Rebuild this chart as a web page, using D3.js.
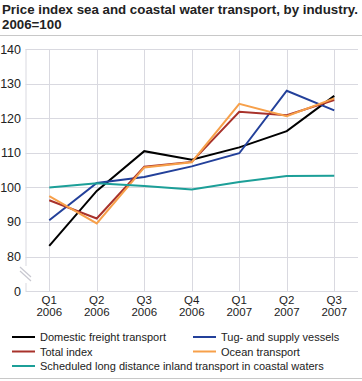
<!DOCTYPE html>
<html><head><meta charset="utf-8">
<script src="https://cdn.jsdelivr.net/npm/d3@7"></script>
<style>
body{margin:0;background:#fff;}
svg{display:block;font-family:"Liberation Sans",Arial,sans-serif;}
</style></head><body>
<svg id="c" width="362" height="381"></svg>
<script>
const categories = ["Q1 2006","Q2 2006","Q3 2006","Q4 2006","Q1 2007","Q2 2007","Q3 2007"];
const domestic  = [83.1, 99.0, 110.5, 108.0, 111.6, 116.3, 126.5];
const tug       = [90.5, 101.3, 103.0, 106.1, 109.9, 128.0, 122.3];
const total     = [96.3, 91.0, 106.0, 107.4, 121.9, 120.9, 125.3];
const ocean     = [97.5, 89.6, 105.8, 107.3, 124.2, 120.6, 125.8];
const scheduled = [100.0, 101.2, 100.4, 99.4, 101.6, 103.3, 103.4];
const yTicks = [0, 80, 90, 100, 110, 120, 130, 140];
const seriesNames = ["Domestic freight transport","Tug- and supply vessels","Total index","Ocean transport","Scheduled long distance inland transport in coastal waters"];
const seriesColors = ["#000000","#23409a","#a8322b","#f7a04a","#1c9f98"];
const seriesData = [domestic, tug, total, ocean, scheduled];

const svg = d3.select("#c");
const L = 25.5, R = 358, B = 291;
const x = d3.scalePoint().domain(categories).range([L, R]).padding(0.5);
const y = d3.scaleLinear().domain([0, 80, 140]).range([B, 256.5, 49.3]);
const grid = "#d9d9e0";

// title
svg.append("text").attr("x", 2).attr("y", 14).attr("font-size", 13.3).attr("font-weight", "bold").attr("fill", "#222")
  .text("Price index sea and coastal water transport, by industry.");
svg.append("text").attr("x", 2).attr("y", 29).attr("font-size", 13.3).attr("font-weight", "bold").attr("fill", "#222")
  .text("2006=100");
svg.append("line").attr("x1", 0).attr("x2", 362).attr("y1", 35.5).attr("y2", 35.5).attr("stroke", "#c8c8c8");
svg.append("line").attr("x1", 0).attr("x2", 362).attr("y1", 378.5).attr("y2", 378.5).attr("stroke", "#c8c8c8");

// horizontal grid
const g = svg.append("g");
yTicks.filter(t => t > 0).forEach(t => {
  g.append("line").attr("x1", L).attr("x2", R).attr("y1", Math.round(y(t)) + 0.5).attr("y2", Math.round(y(t)) + 0.5).attr("stroke", grid);
});
// vertical grid
categories.forEach(c => {
  g.append("line").attr("x1", Math.round(x(c)) + 0.5).attr("x2", Math.round(x(c)) + 0.5).attr("y1", y(140)).attr("y2", B).attr("stroke", grid);
});
// axis lines
g.append("line").attr("x1", L).attr("x2", R).attr("y1", B + 0.5).attr("y2", B + 0.5).attr("stroke", grid);
g.append("line").attr("x1", L + 0.5).attr("x2", L + 0.5).attr("y1", y(140)).attr("y2", 266).attr("stroke", grid);
g.append("line").attr("x1", L + 0.5).attr("x2", L + 0.5).attr("y1", 283).attr("y2", B).attr("stroke", grid);
// break marks
g.append("line").attr("x1", 20).attr("y1", 267).attr("x2", 31).attr("y2", 277).attr("stroke", "#c8c8d0").attr("stroke-width", 1.2);
g.append("line").attr("x1", 20).attr("y1", 271).attr("x2", 31).attr("y2", 281).attr("stroke", "#c8c8d0").attr("stroke-width", 1.2);

// y tick labels
yTicks.forEach(t => {
  svg.append("text").attr("x", 21).attr("y", y(t) + 4.5).attr("text-anchor", "end").attr("font-size", 12.5).attr("fill", "#222").text(t);
});
// x tick labels
categories.forEach(c => {
  const [q, yr] = c.split(" ");
  const t = svg.append("text").attr("text-anchor", "middle").attr("font-size", 11.5).attr("fill", "#222");
  t.append("tspan").attr("x", x(c)).attr("y", 304).text(q);
  t.append("tspan").attr("x", x(c)).attr("y", 316).text(yr);
});

// lines
const line = d3.line().x((d, i) => x(categories[i])).y(d => y(d));
seriesData.forEach((s, i) => {
  svg.append("path").datum(s).attr("d", line).attr("fill", "none").attr("stroke", seriesColors[i]).attr("stroke-width", 2).attr("stroke-linejoin", "miter");
});

// legend
const legPos = [[12, 337], [193, 337], [12, 351.5], [193, 351.5], [12, 366]];
seriesNames.forEach((n, i) => {
  const [lx, ly] = legPos[i];
  svg.append("line").attr("x1", lx).attr("x2", lx + 23).attr("y1", ly).attr("y2", ly).attr("stroke", seriesColors[i]).attr("stroke-width", 2);
  svg.append("text").attr("x", lx + 28).attr("y", ly + 4).attr("font-size", 11).attr("fill", "#222").text(n);
});
</script>
</body></html>
